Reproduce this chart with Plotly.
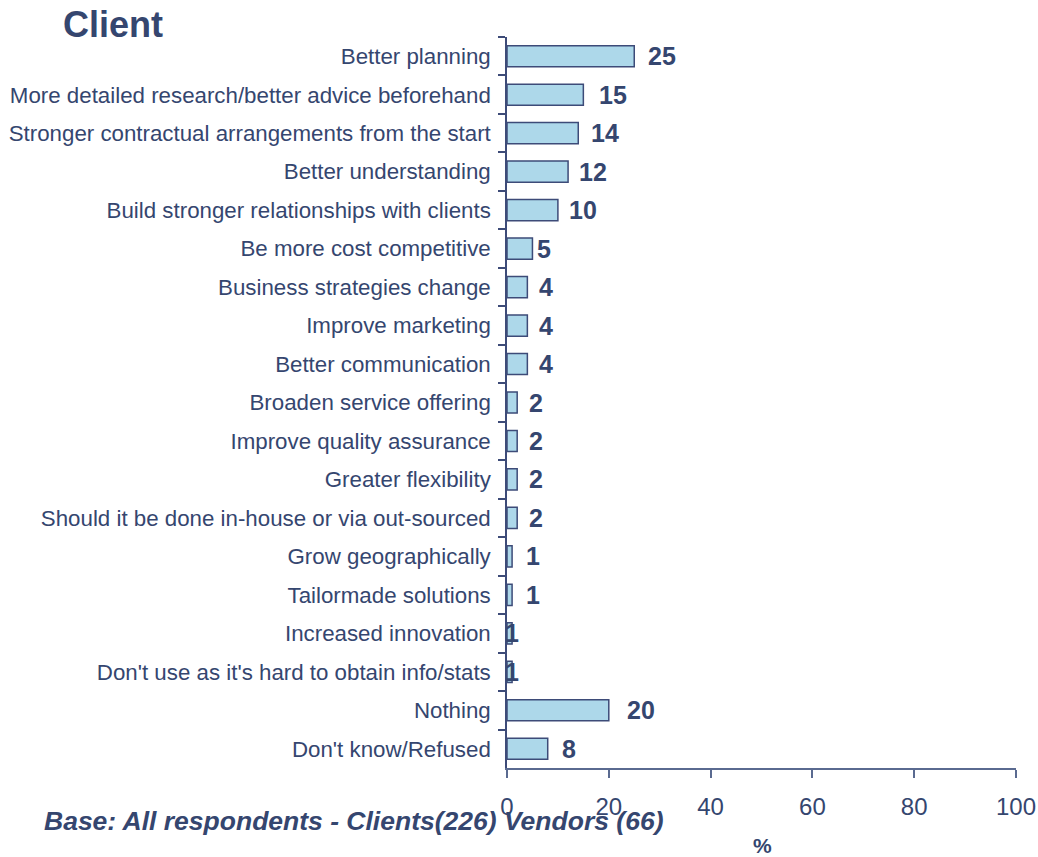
import plotly.graph_objects as go

# Survey answers (percent of respondents)
categories = [
    "Better planning",
    "More detailed research/better advice beforehand",
    "Stronger contractual arrangements from the start",
    "Better understanding",
    "Build stronger relationships with clients",
    "Be more cost competitive",
    "Business strategies change",
    "Improve marketing",
    "Better communication",
    "Broaden service offering",
    "Improve quality assurance",
    "Greater flexibility",
    "Should it be done in-house or via out-sourced",
    "Grow geographically",
    "Tailormade solutions",
    "Increased innovation",
    "Don't use as it's hard to obtain info/stats",
    "Nothing",
    "Don't know/Refused",
]
values = [25, 15, 14, 12, 10, 5, 4, 4, 4, 2, 2, 2, 2, 1, 1, 1, 1, 20, 8]
x_ticks = [0, 20, 40, 60, 80, 100]

# Horizontal pixel offset of each value label from the end of its bar
label_shift = [12, 14, 11, 9, 9, 3, 10, 10, 10, 10, 10, 10, 10, 12, 12, -9, -9, 16, 12]

NAVY = "#35466f"
FONT = "Liberation Sans, Arial, sans-serif"

W, H = 1038, 857
ML, MR, MT, MB = 507, 22, 37, 89
pw, ph = W - ML - MR, H - MT - MB


def px(xp):
    """Pixel x -> paper coordinate."""
    return (xp - ML) / pw


def py(yp):
    """Pixel y (from top) -> paper coordinate."""
    return (H - MB - yp) / ph


fig = go.Figure()
fig.add_trace(go.Bar(
    x=values,
    y=categories,
    orientation="h",
    width=0.55,
    marker=dict(color="#add8ea", line=dict(color="#3d4b78", width=1.5)),
    hoverinfo="x+y",
))

for cat, val, dx in zip(categories, values, label_shift):
    fig.add_annotation(
        x=val, y=cat, xref="x", yref="y",
        text=f"<b>{val}</b>", showarrow=False,
        xanchor="left", yanchor="middle", xshift=dx,
        font=dict(family=FONT, size=25, color=NAVY),
    )

fig.add_annotation(
    x=px(61), y=py(25), xref="paper", yref="paper", text="<b>Client</b>",
    showarrow=False, xanchor="left", yanchor="middle",
    font=dict(family=FONT, size=36, color=NAVY),
)
fig.add_annotation(
    x=px(42), y=py(821), xref="paper", yref="paper",
    text="<b><i>Base: All respondents - Clients(226) Vendors (66)</i></b>",
    showarrow=False, xanchor="left", yanchor="middle",
    font=dict(family=FONT, size=26.5, color=NAVY),
)
fig.add_annotation(
    x=px(762), y=py(845), xref="paper", yref="paper",
    text="<b>%</b>", showarrow=False, xanchor="center", yanchor="middle",
    font=dict(family=FONT, size=21, color=NAVY),
)

fig.update_layout(
    width=W, height=H,
    margin=dict(l=ML, r=MR, t=MT, b=MB, pad=0),
    paper_bgcolor="white", plot_bgcolor="white",
    showlegend=False,
    font=dict(family=FONT, color=NAVY),
)
fig.update_xaxes(
    range=[0, 100], tickvals=x_ticks, ticktext=[str(t) for t in x_ticks],
    automargin=False,
    showgrid=False, zeroline=False,
    showline=True, linecolor="#5a6a90", linewidth=1.5,
    ticks="outside", ticklen=8, tickcolor="#5a6a90", tickwidth=1.5,
    ticklabelstandoff=8,
    tickfont=dict(family=FONT, size=24, color=NAVY),
)
fig.update_yaxes(
    categoryorder="array", categoryarray=categories, autorange="reversed",
    automargin=False,
    showgrid=False, zeroline=False,
    showline=True, linecolor="#3d4b78", linewidth=1.5,
    ticks="outside", tickson="boundaries", ticklen=7, tickcolor="#3d4b78", tickwidth=1.5,
    ticklabelstandoff=10,
    tickfont=dict(family=FONT, size=22.3, color=NAVY),
)

fig.write_html("out.html")
